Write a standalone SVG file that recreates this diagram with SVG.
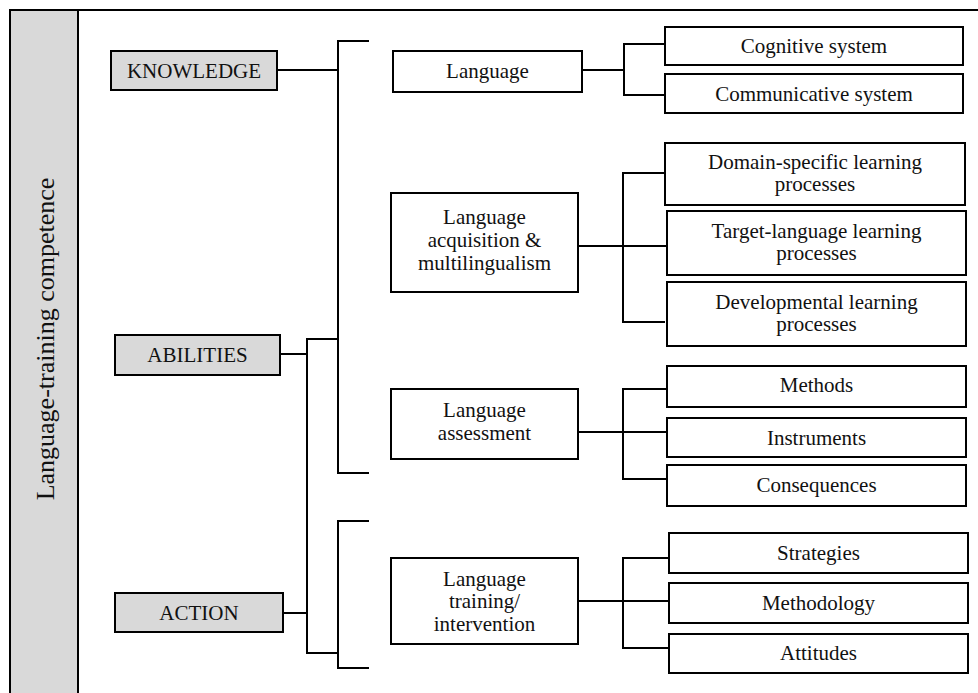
<svg xmlns="http://www.w3.org/2000/svg" width="978" height="693" viewBox="0 0 978 693">
<style>
.box{fill:#ffffff;stroke:#000000;stroke-width:2}
.grey{fill:#d9d9d9;stroke:#000000;stroke-width:2}
.t{font-family:"Liberation Serif","Times New Roman",serif;font-size:21px;fill:#111111;text-anchor:middle}
.title{font-family:"Liberation Serif","Times New Roman",serif;font-size:26px;fill:#111111;text-anchor:middle}
.c{fill:none;stroke:#000000;stroke-width:2}
</style>
<rect x="0" y="0" width="978" height="693" fill="#ffffff"/>
<g id="frame">
<path class="c" d="M978,10 H10 V693"/>
<rect class="grey" x="10" y="10" width="68" height="690"/>
<text class="title" transform="translate(54,339) rotate(-90)">Language-training competence</text>
</g>
<g id="connectors">
<path class="c" d="M277,70 H338"/>
<path class="c" d="M369,41 H338 V473 H369"/>
<path class="c" d="M280,354 H307"/>
<path class="c" d="M338,339 H307 V653 H338"/>
<path class="c" d="M283,613 H307"/>
<path class="c" d="M369,521 H338 V668 H369"/>
<path class="c" d="M582,70 H624"/>
<path class="c" d="M665,44 H624 V95 H665"/>
<path class="c" d="M578,246 H667"/>
<path class="c" d="M665,173 H623 V322 H665"/>
<path class="c" d="M578,432 H667"/>
<path class="c" d="M667,389 H623 V479 H667"/>
<path class="c" d="M578,601 H669"/>
<path class="c" d="M669,558 H623 V648 H669"/>
</g>
<g id="knowledge"><rect class="grey" x="111" y="51" width="166" height="39"/><text class="t" x="194" y="77.5">KNOWLEDGE</text></g>
<g id="abilities"><rect class="grey" x="115" y="335" width="165" height="40"/><text class="t" x="197.5" y="361.5">ABILITIES</text></g>
<g id="action"><rect class="grey" x="115" y="593" width="168" height="39"/><text class="t" x="199" y="619.5">ACTION</text></g>
<g id="language"><rect class="box" x="393" y="51" width="189" height="41"/><text class="t" x="487.5" y="78">Language</text></g>
<g id="acquisition"><rect class="box" x="391" y="193" width="187" height="99"/><text class="t" x="484.5" y="224">Language</text><text class="t" x="484.5" y="247">acquisition &amp;</text><text class="t" x="484.5" y="270">multilingualism</text></g>
<g id="assessment"><rect class="box" x="391" y="389" width="187" height="70"/><text class="t" x="484.5" y="417">Language</text><text class="t" x="484.5" y="440">assessment</text></g>
<g id="training"><rect class="box" x="391" y="558" width="187" height="86"/><text class="t" x="484.5" y="586">Language</text><text class="t" x="484.5" y="608">training/</text><text class="t" x="484.5" y="631">intervention</text></g>
<g id="cognitive"><rect class="box" x="665" y="27" width="298" height="38"/><text class="t" x="814" y="52.5">Cognitive system</text></g>
<g id="communicative"><rect class="box" x="665" y="74" width="298" height="39"/><text class="t" x="814" y="100.5">Communicative system</text></g>
<g id="domain"><rect class="box" x="665" y="143" width="300" height="62"/><text class="t" x="815" y="169">Domain-specific learning</text><text class="t" x="815" y="191">processes</text></g>
<g id="target"><rect class="box" x="667" y="211" width="299" height="64"/><text class="t" x="816.5" y="238">Target-language learning</text><text class="t" x="816.5" y="260">processes</text></g>
<g id="developmental"><rect class="box" x="667" y="282" width="299" height="64"/><text class="t" x="816.5" y="309">Developmental learning</text><text class="t" x="816.5" y="331">processes</text></g>
<g id="methods"><rect class="box" x="667" y="366" width="299" height="41"/><text class="t" x="816.5" y="392">Methods</text></g>
<g id="instruments"><rect class="box" x="667" y="418" width="299" height="39"/><text class="t" x="816.5" y="444.5">Instruments</text></g>
<g id="consequences"><rect class="box" x="667" y="465" width="299" height="41"/><text class="t" x="816.5" y="491.5">Consequences</text></g>
<g id="strategies"><rect class="box" x="669" y="533" width="299" height="40"/><text class="t" x="818.5" y="559.5">Strategies</text></g>
<g id="methodology"><rect class="box" x="669" y="583" width="299" height="40"/><text class="t" x="818.5" y="609.5">Methodology</text></g>
<g id="attitudes"><rect class="box" x="669" y="634" width="299" height="39"/><text class="t" x="818.5" y="660">Attitudes</text></g>
</svg>
